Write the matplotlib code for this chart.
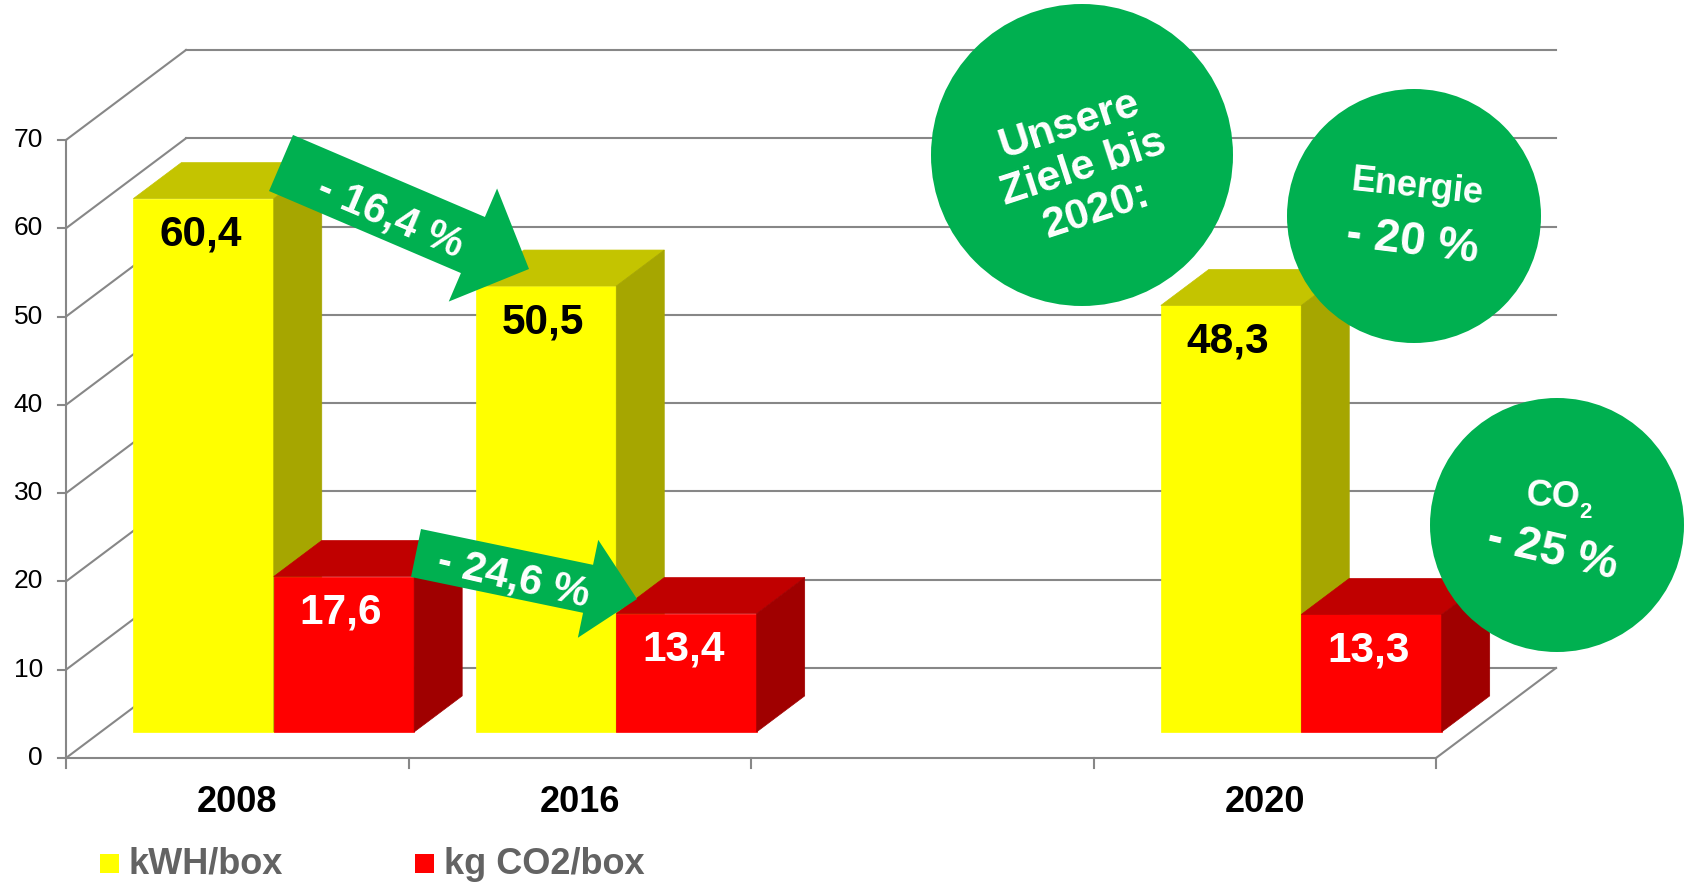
import numpy as np
import matplotlib
matplotlib.use('Agg')
import matplotlib.pyplot as plt
from matplotlib.patches import Polygon, Circle, Rectangle

plt.rcParams['font.family'] = ['Liberation Sans', 'DejaVu Sans']

# ----------------- Data -----------------
categories = ['2008', '2016', '', '2020']
kwh_values = [60.4, 50.5, np.nan, 48.3]
co2_values = [17.6, 13.4, np.nan, 13.3]
kwh_labels = ['60,4', '50,5', '', '48,3']
co2_labels = ['17,6', '13,4', '', '13,3']
series_names = ['kWH/box', 'kg CO2/box']
y_ticks = [0, 10, 20, 30, 40, 50, 60, 70]

arrow_texts = ['- 16,4 %', '- 24,6 %']
goal_title = 'Unsere\nZiele bis\n2020:'
goal_energy = ['Energie', '- 20 %']
goal_co2 = ['CO', '2', '- 25 %']

# ----------------- Layout (pixels) -----------------
W, H = 1687, 883
X0, Y0 = 66, 758          # front origin (value 0, first slot)
SLOT = 342.5              # px per category
K = 8.829                 # px per value unit
DEPTH_PX = (120, 90)      # oblique depth vector
D0, D1 = 0.29, 0.69       # bar depth range

yellow = ('#FFFF00', '#C4C400', '#A6A600')
red = ('#FF0000', '#C00000', '#A00000')
green = '#00B050'
grid_c = '#878787'

fig = plt.figure(figsize=(W / 100, H / 100), dpi=100)
ax = fig.add_axes([0, 0, 1, 1])
ax.set_xlim(-X0 / SLOT, (W - X0) / SLOT)
ax.set_ylim(-(H - Y0) / K, Y0 / K)
ax.axis('off')

DX = DEPTH_PX[0] / SLOT
DY = DEPTH_PX[1] / K


def pt(x, y, d):
    return (x + d * DX, y + d * DY)


n_slots = len(categories)
top = y_ticks[-1]

# back wall
for t in y_ticks:
    a, b = pt(0, t, 1), pt(n_slots, t, 1)
    ax.plot([a[0], b[0]], [a[1], b[1]], color=grid_c, lw=1.5, zorder=1)
    # left wall diagonals
    a, b = pt(0, t, 0), pt(0, t, 1)
    ax.plot([a[0], b[0]], [a[1], b[1]], color=grid_c, lw=1.5, zorder=1)
    # y tick marks and labels
    ax.plot([-8 / SLOT, 0], [t, t], color=grid_c, lw=1.5, zorder=1)
    ax.text(-23 / SLOT, t, str(t), ha='right', va='center', fontsize=19, color='#000000')

# y axis, x axis, floor right edge
ax.plot([0, 0], [0, top], color=grid_c, lw=1.5, zorder=1)
ax.plot([0, n_slots], [0, 0], color=grid_c, lw=1.5, zorder=1)
a, b = pt(n_slots, 0, 0), pt(n_slots, 0, 1)
ax.plot([a[0], b[0]], [a[1], b[1]], color=grid_c, lw=1.5, zorder=1)
for i in range(n_slots + 1):
    ax.plot([i, i], [0, -10 / K], color=grid_c, lw=1.5, zorder=1)

# category labels
for i, c in enumerate(categories):
    ax.text(i + 0.5, -44 / K, c, ha='center', va='center', fontsize=26,
            fontweight='bold', color='#000000')


def box(x0, x1, v, cols):
    front = [pt(x0, 0, D0), pt(x1, 0, D0), pt(x1, v, D0), pt(x0, v, D0)]
    topf = [pt(x0, v, D0), pt(x1, v, D0), pt(x1, v, D1), pt(x0, v, D1)]
    side = [pt(x1, 0, D0), pt(x1, 0, D1), pt(x1, v, D1), pt(x1, v, D0)]
    for poly, c in zip((front, topf, side), cols):
        ax.add_patch(Polygon(poly, closed=True, facecolor=c, edgecolor=c,
                             lw=0.5, zorder=3))


for i in range(n_slots):
    for j, (vals, labs, cols, tc) in enumerate(
            [(kwh_values, kwh_labels, yellow, '#000000'),
             (co2_values, co2_labels, red, '#FFFFFF')]):
        v = vals[i]
        if np.isnan(v):
            continue
        x0 = i + 0.095 + j * 0.41
        x1 = x0 + 0.41
        box(x0, x1, v, cols)
        cx, cy = pt((x0 + x1) / 2, v, D0)
        ax.text(cx - 3 / SLOT, cy - 36 / K, labs[i], ha='center', va='center', fontsize=30.5,
                fontweight='bold', color=tc, zorder=5)

# ----------------- Overlay (pixel coords) -----------------
ov = fig.add_axes([0, 0, 1, 1])
ov.set_xlim(0, W)
ov.set_ylim(H, 0)
ov.axis('off')
ov.patch.set_alpha(0)


def block_arrow(tail, tip, sw, hw, hl):
    t = np.array(tail, float)
    p = np.array(tip, float)
    u = (p - t) / np.linalg.norm(p - t)
    n = np.array([-u[1], u[0]])
    b = p - u * hl
    return [t + n * sw / 2, b + n * sw / 2, b + n * hw / 2, p,
            b - n * hw / 2, b - n * sw / 2, t - n * sw / 2]


arrows = [((281, 163), (529, 269), 61, 123, 61),
          ((416, 553), (637, 599), 49, 100, 50)]
arrow_text_pos = [((390, 217), -23, 30), ((513, 578), -13, 30)]
for (tail, tip, sw, hw, hl), txt, (pos, rot, fs) in zip(arrows, arrow_texts, arrow_text_pos):
    ov.add_patch(Polygon(block_arrow(tail, tip, sw, hw, hl), closed=True,
                         facecolor=green, edgecolor='none', zorder=6))
    ov.text(pos[0], pos[1], txt, rotation=rot, ha='center', va='center',
            fontsize=fs, fontweight='bold', color='white', zorder=7)

# goal circles
for c, r in [((1082, 155), 151), ((1414, 216), 127), ((1557, 525), 127)]:
    ov.add_patch(Circle(c, r, facecolor=green, edgecolor='none', zorder=6))

ov.text(1083, 168, goal_title, rotation=18, ha='center', va='center', fontsize=31,
        fontweight='bold', color='white', linespacing=1.15, multialignment='center', zorder=7)
ov.text(1417, 188, goal_energy[0], rotation=-6, ha='center', va='center', fontsize=26,
        fontweight='bold', color='white', zorder=7)
ov.text(1412, 242, goal_energy[1], rotation=-7, ha='center', va='center', fontsize=33,
        fontweight='bold', color='white', zorder=7)
ov.text(1553, 497, goal_co2[0], rotation=-3, ha='center', va='center', fontsize=26,
        fontweight='bold', color='white', zorder=7)
ov.text(1585, 513, goal_co2[1], ha='center', va='center', fontsize=16,
        fontweight='bold', color='white', zorder=7)
ov.text(1552, 552, goal_co2[2], rotation=-13, ha='center', va='center', fontsize=33,
        fontweight='bold', color='white', zorder=7)

# legend
for name, col, x in zip(series_names, [yellow[0], red[0]], [100, 415]):
    ov.add_patch(Rectangle((x, 854), 19, 19, facecolor=col, edgecolor='none'))
    ov.text(x + 29, 864, name, ha='left', va='center', fontsize=26,
            fontweight='bold', color='#636363')

fig.savefig('out.png', dpi=100)
